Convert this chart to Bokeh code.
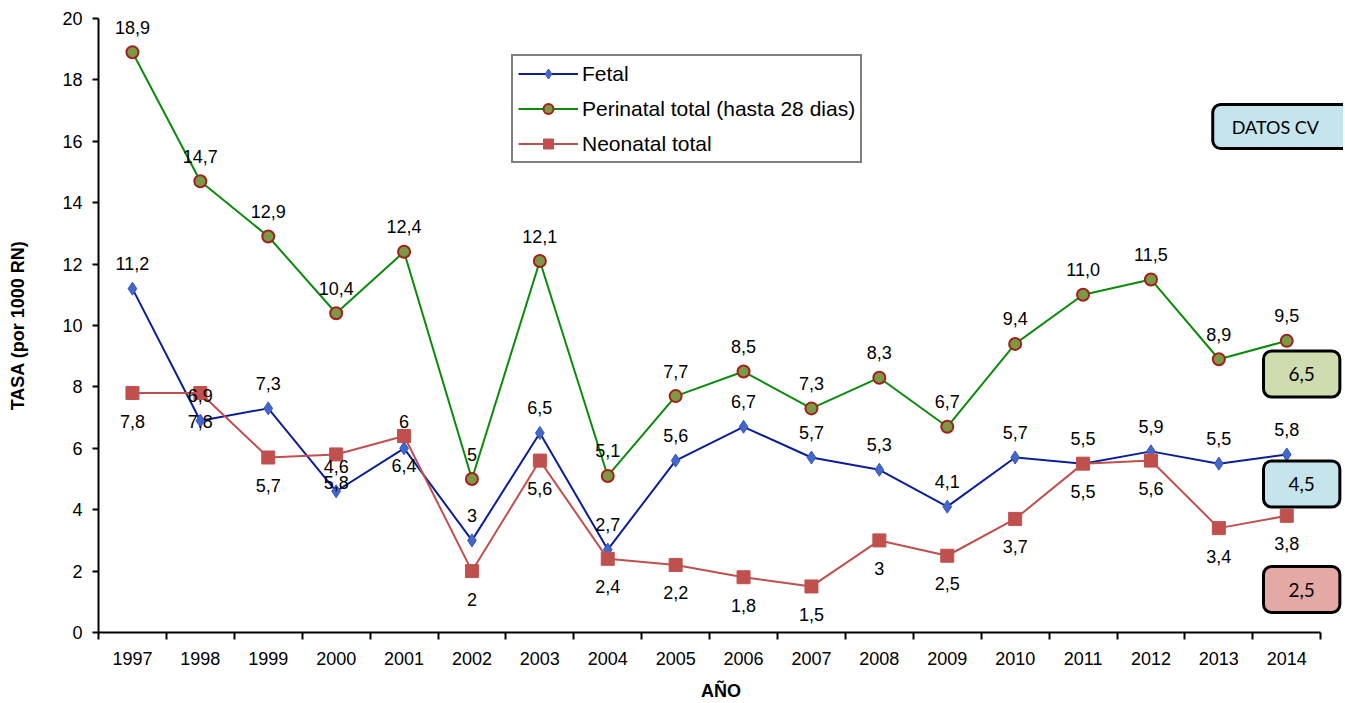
from bokeh.plotting import figure
from bokeh.models import (Range1d, FixedTicker, ColumnDataSource, Legend, LegendItem, Label)
from bokeh.core.properties import value
from bokeh.embed import file_html
from bokeh.resources import INLINE

years = ["1997", "1998", "1999", "2000", "2001", "2002", "2003", "2004", "2005",
         "2006", "2007", "2008", "2009", "2010", "2011", "2012", "2013", "2014"]
fetal = [11.2, 6.9, 7.3, 4.6, 6.0, 3.0, 6.5, 2.7, 5.6, 6.7, 5.7, 5.3, 4.1, 5.7, 5.5, 5.9, 5.5, 5.8]
perinatal = [18.9, 14.7, 12.9, 10.4, 12.4, 5.0, 12.1, 5.1, 7.7, 8.5, 7.3, 8.3, 6.7, 9.4, 11.0, 11.5, 8.9, 9.5]
neonatal = [7.8, 7.8, 5.7, 5.8, 6.4, 2.0, 5.6, 2.4, 2.2, 1.8, 1.5, 3.0, 2.5, 3.7, 5.5, 5.6, 3.4, 3.8]

fetal_labels = ["11,2", "6,9", "7,3", "4,6", "6,4", "3", "6,5", "2,7", "5,6", "6,7", "5,7",
                "5,3", "4,1", "5,7", "5,5", "5,9", "5,5", "5,8"]
perinatal_labels = ["18,9", "14,7", "12,9", "10,4", "12,4", "5", "12,1", "5,1", "7,7", "8,5",
                    "7,3", "8,3", "6,7", "9,4", "11,0", "11,5", "8,9", "9,5"]
neonatal_labels = ["7,8", "7,8", "5,7", "5,8", "6", "2", "5,6", "2,4", "2,2", "1,8", "1,5",
                   "3", "2,5", "3,7", "5,5", "5,6", "3,4", "3,8"]

series_names = ["Fetal", "Perinatal total (hasta 28 dias)", "Neonatal total"]
cv_title = "DATOS CV"
cv_values = ["6,5", "4,5", "2,5"]
y_ticks = [0, 2, 4, 6, 8, 10, 12, 14, 16, 18, 20]

FONT = "Liberation Sans"
xs = list(range(len(years)))
n = len(years)

W, H = 1343, 703
BL, BT, BB = 98, 18, 1
# category pitch of ~67.9 px: extend the frame to the right edge for the side boxes
x_end = -0.5 + (W - BL) / 67.9

p = figure(width=W, height=H, output_backend="svg", toolbar_location=None,
           x_range=Range1d(-0.5, x_end), y_range=Range1d(0, 20),
           min_border_left=BL, min_border_right=0, min_border_top=BT, min_border_bottom=BB)
p.outline_line_color = None
p.xgrid.visible = False
p.ygrid.visible = False
p.background_fill_color = "white"

# axes
xa = p.xaxis[0]
xa.bounds = (-0.5, n - 0.5)
xa.ticker = FixedTicker(ticks=xs, minor_ticks=[i - 0.5 for i in range(n + 1)])
xa.major_label_overrides = {i: y for i, y in enumerate(years)}
xa.major_tick_out = 0
xa.major_tick_in = 0
xa.minor_tick_out = 7
xa.minor_tick_in = 0
xa.minor_tick_line_color = "black"
xa.minor_tick_line_width = 2
xa.axis_line_width = 2
xa.axis_line_color = "black"
xa.major_label_text_font = FONT
xa.major_label_text_font_size = "18px"
xa.major_label_text_color = "black"
xa.major_label_standoff = 12
xa.axis_label = "AÑO"
xa.axis_label_text_font = FONT
xa.axis_label_text_font_size = "18px"
xa.axis_label_text_font_style = "bold"
xa.axis_label_text_color = "black"
xa.axis_label_standoff = 13

ya = p.yaxis[0]
ya.ticker = FixedTicker(ticks=y_ticks, minor_ticks=[])
ya.major_tick_out = 6
ya.major_tick_in = 0
ya.major_tick_line_width = 2
ya.axis_line_width = 2
ya.axis_line_color = "black"
ya.major_label_text_font = FONT
ya.major_label_text_font_size = "18px"
ya.major_label_text_color = "black"
ya.major_label_standoff = 10
ya.axis_label = "TASA (por 1000 RN)"
ya.axis_label_text_font = FONT
ya.axis_label_text_font_size = "18px"
ya.axis_label_text_font_style = "bold"
ya.axis_label_text_color = "black"
ya.axis_label_standoff = 31

# series
lf = p.line(xs, fetal, line_color="#0a1f96", line_width=2)
sf = p.scatter(xs, fetal, marker="diamond", size=13, fill_color="#4467c9", line_color="#3355bb", line_width=1)

lp = p.line(xs, perinatal, line_color="#0b8a0b", line_width=2)
sp = p.scatter(xs, perinatal, marker="circle", size=12, fill_color="#7c9a45", line_color="#a3201c", line_width=2)

ln = p.line(xs, neonatal, line_color="#c0504d", line_width=2)
sn = p.scatter(xs, neonatal, marker="square", size=13, fill_color="#c0504d", line_color="#c0504d", line_width=1)

# data labels: default above (-) or below (+) in px, with a few exceptions
ABOVE, BELOW = -25, 28
exceptions = {("neonatal", "2001"): -15, ("fetal", "2001"): 17}

def label_source(name, vals, labels, default):
    offs = [exceptions.get((name, y), default) for y in years]
    return ColumnDataSource(dict(x=xs, y=vals, text=labels, yo=offs))

for name, vals, labels, default in [("fetal", fetal, fetal_labels, ABOVE),
                                     ("perinatal", perinatal, perinatal_labels, ABOVE),
                                     ("neonatal", neonatal, neonatal_labels, BELOW)]:
    src = label_source(name, vals, labels, default)
    p.text(x="x", y="y", text="text", y_offset="yo", source=src,
           text_font=value(FONT), text_font_size="18px", text_color="black",
           text_align="center", text_baseline="middle")

# legend
legend = Legend(items=[LegendItem(label=series_names[0], renderers=[lf, sf]),
                       LegendItem(label=series_names[1], renderers=[lp, sp]),
                       LegendItem(label=series_names[2], renderers=[ln, sn])],
                location=(413, 469), orientation="vertical")
legend.border_line_color = "black"
legend.border_line_width = 2
legend.background_fill_alpha = 1
legend.padding = 5
legend.spacing = 10
legend.label_height = 25
legend.glyph_height = 25
legend.glyph_width = 60
legend.label_standoff = 4
legend.label_text_font = FONT
legend.label_text_font_size = "21px"
legend.label_text_color = "black"
legend.margin = 0
p.add_layout(legend, "center")

# CV boxes (positions in index units / data units)
box_font = "Lato"
p.add_layout(Label(x=15.91, y=16.48, text=cv_title, text_align="left", text_baseline="middle",
                   text_font=box_font, text_font_size="18px", text_color="black",
                   background_fill_color="#c6e4ec", border_line_color="black", border_line_width=3,
                   border_radius=8, padding=(19, 80, 11, 11)))
box_colors = ["#cfdcb0", "#c6e4ec", "#e4a8a5"]
box_ys = [8.42, 4.84, 1.40]
for v, c, yy in zip(cv_values, box_colors, box_ys):
    p.add_layout(Label(x=17.22, y=yy, text=v, text_align="center", text_baseline="middle",
                       text_font=box_font, text_font_size="19px", text_color="black",
                       background_fill_color=c, border_line_color="black", border_line_width=3,
                       border_radius=8, padding=(25, 25, 16, 16)))

open("out.html", "w").write(file_html(p, INLINE))
